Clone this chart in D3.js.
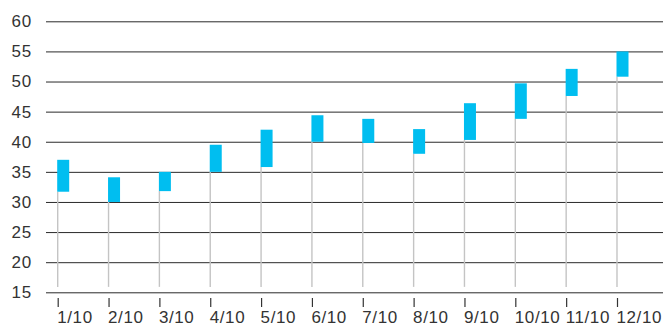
<!DOCTYPE html>
<html>
<head>
<meta charset="utf-8">
<script src="https://cdn.jsdelivr.net/npm/d3@7"></script>
<style>
  html, body { margin: 0; padding: 0; background: #fff; }
  svg { display: block; }
  text { font-family: "Liberation Sans", Arial, sans-serif; fill: #333; }
</style>
</head>
<body>
<svg id="chart" width="663" height="327"></svg>
<script>
// Monthly ranges (low / high) per date
const categories = ["1/10", "2/10", "3/10", "4/10", "5/10", "6/10", "7/10", "8/10", "9/10", "10/10", "11/10", "12/10"];
const lowValues  = [31.7, 30.0, 31.8, 35.0, 35.8, 40.0, 39.8, 38.0, 40.3, 43.8, 47.6, 50.8];
const highValues = [37.0, 34.1, 35.0, 39.5, 42.0, 44.4, 43.8, 42.1, 46.4, 49.7, 52.1, 55.0];
const yTicks = [15, 20, 25, 30, 35, 40, 45, 50, 55, 60];
const stemBase = 15.9;

const svg = d3.select("#chart");
const W = 663;

const x = d3.scalePoint().domain(categories).range([57.7, 617]);
const y = d3.scaleLinear().domain([15, 60]).range([292.3, 21.3]);

// horizontal grid + y labels
const yAxis = svg.append("g")
  .attr("transform", "translate(46,0)")
  .call(d3.axisLeft(y).tickValues(yTicks).tickSize(-(W - 46)).tickPadding(14));
yAxis.select(".domain").remove();
yAxis.selectAll(".tick line").attr("stroke", "#2a2a2a").attr("stroke-width", 1);
yAxis.selectAll(".tick text")
  .style("font-size", "17px")
  .style("letter-spacing", "0.8px")
  .attr("fill", "#333");

// stems from base to low value
svg.append("g").selectAll("line")
  .data(categories)
  .join("line")
  .attr("x1", d => x(d)).attr("x2", d => x(d))
  .attr("y1", (d, i) => y(lowValues[i]))
  .attr("y2", y(stemBase))
  .attr("stroke", "#c4c4c4")
  .attr("stroke-width", 1.4);

// range boxes
svg.append("g").selectAll("rect")
  .data(categories)
  .join("rect")
  .attr("x", d => x(d) - 0.5)
  .attr("width", 12)
  .attr("y", (d, i) => y(highValues[i]))
  .attr("height", (d, i) => y(lowValues[i]) - y(highValues[i]))
  .attr("fill", "#00BEF0");

// x ticks and labels
const xAxis = svg.append("g")
  .attr("transform", "translate(0,298)")
  .call(d3.axisBottom(x).tickSize(9).tickPadding(4));
xAxis.select(".domain").remove();
xAxis.selectAll(".tick line").attr("stroke", "#333").attr("stroke-width", 1.2);
xAxis.selectAll(".tick text")
  .attr("text-anchor", "start")
  .attr("x", -1)
  .style("font-size", "17px")
  .style("letter-spacing", "0.6px")
  .attr("fill", "#333");
</script>
</body>
</html>
